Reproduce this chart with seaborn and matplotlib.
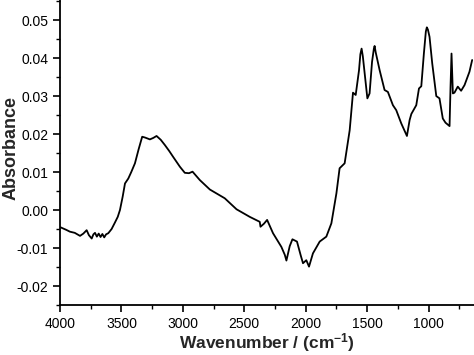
import numpy as np
import pandas as pd
import matplotlib
matplotlib.use("Agg")
import matplotlib.pyplot as plt
from matplotlib.ticker import MultipleLocator, FormatStrFormatter
import seaborn as sns

wavenumber = [4000, 3992, 3950, 3919, 3880, 3837, 3810, 3783, 3765, 3742, 3728, 3715, 3700,
              3685, 3670, 3655, 3640, 3625, 3607, 3580, 3553, 3530, 3512, 3490, 3471, 3444,
              3420, 3390, 3360, 3331, 3309, 3268, 3240, 3214, 3180, 3146, 3110, 3079, 3024,
              2984, 2950, 2921, 2862, 2780, 2659, 2563, 2455, 2374, 2368, 2340, 2314, 2266,
              2198, 2170, 2157, 2130, 2108, 2071, 2040, 2022, 1995, 1973, 1941, 1886, 1832,
              1791, 1750, 1724, 1683, 1642, 1615, 1593, 1566, 1555, 1545, 1535, 1520, 1498,
              1480, 1460, 1445, 1439, 1430, 1398, 1358, 1331, 1290, 1263, 1222, 1176, 1154,
              1140, 1100, 1078, 1059, 1038, 1022, 1014, 1005, 992, 970, 937, 911, 884, 862,
              829, 821, 813, 802, 789, 762, 735, 707, 667, 645]
absorbance = [-0.0045, -0.0046, -0.0052, -0.0057, -0.0060, -0.0068, -0.0062, -0.0053, -0.0066,
              -0.0075, -0.0064, -0.0060, -0.0070, -0.0062, -0.0071, -0.0063, -0.0072, -0.0064,
              -0.0061, -0.0050, -0.0033, -0.0018, 0.0000, 0.0035, 0.0070, 0.0083,
              0.0100, 0.0123, 0.0160, 0.0193, 0.0191, 0.0186, 0.0190, 0.0195, 0.0185, 0.0171,
              0.0155, 0.0140, 0.0114, 0.0098, 0.0097, 0.0101, 0.0079, 0.0054, 0.0031, 0.0002,
              -0.0018, -0.0031, -0.0044, -0.0036, -0.0026, -0.0061, -0.0097, -0.0118, -0.0133,
              -0.0095, -0.0077, -0.0083, -0.0120, -0.0140, -0.0132, -0.0149, -0.0114, -0.0083,
              -0.0070, -0.0035, 0.0044, 0.0110, 0.0123, 0.0210, 0.0309, 0.0303, 0.0368, 0.0410,
              0.0425, 0.0405, 0.0360, 0.0294, 0.0307, 0.0390, 0.0425, 0.0432, 0.0415, 0.0368,
              0.0316, 0.0311, 0.0276, 0.0263, 0.0228, 0.0195, 0.0237, 0.0253, 0.0276, 0.0320,
              0.0326, 0.0412, 0.0470, 0.0481, 0.0475, 0.0456, 0.0386, 0.0300, 0.0294, 0.0241,
              0.0230, 0.0221, 0.0325, 0.0412, 0.0307, 0.0309, 0.0325, 0.0314, 0.0329, 0.0364,
              0.0395]

df = pd.DataFrame({"wavenumber": wavenumber, "absorbance": absorbance})

sns.set_style("ticks")
plt.rcParams["font.family"] = ["Liberation Sans", "DejaVu Sans"]
plt.rcParams["mathtext.fontset"] = "custom"
plt.rcParams["mathtext.rm"] = "Liberation Sans:bold"
plt.rcParams["mathtext.it"] = "Liberation Sans:bold"
plt.rcParams["mathtext.bf"] = "Liberation Sans:bold"

fig = plt.figure(figsize=(4.74, 3.55), dpi=100)
ax = fig.add_axes([60 / 474, 1 - 305 / 355, 1 - 60 / 474, 305 / 355])

sns.lineplot(data=df, x="wavenumber", y="absorbance", ax=ax, color="black",
             linewidth=1.3, sort=False)

ax.set_xlim(4000, 630)
ax.set_ylim(-0.025, 0.0553)
ax.xaxis.set_major_locator(MultipleLocator(500))
ax.xaxis.set_minor_locator(MultipleLocator(250))
ax.yaxis.set_major_locator(MultipleLocator(0.01))
ax.yaxis.set_minor_locator(MultipleLocator(0.005))
ax.yaxis.set_major_formatter(FormatStrFormatter("%.2f"))

for s in ["top", "right"]:
    ax.spines[s].set_visible(False)
for s in ["left", "bottom"]:
    ax.spines[s].set_linewidth(1.3)
    ax.spines[s].set_color("black")

ax.tick_params(which="major", direction="out", length=5, width=1.2, labelsize=10,
               colors="black")
ax.tick_params(which="minor", direction="out", length=3, width=1.0, colors="black")

ax.set_xlabel("Wavenumber / (cm$^{\\mathregular{-1}}$)", fontsize=12.5, fontweight="bold")
ax.set_ylabel("Absorbance", fontsize=13, fontweight="bold")
ax.xaxis.set_label_coords(0.5, -0.085)
ax.yaxis.set_label_coords(-0.098, 0.515)

fig.savefig("out.png", dpi=100)
